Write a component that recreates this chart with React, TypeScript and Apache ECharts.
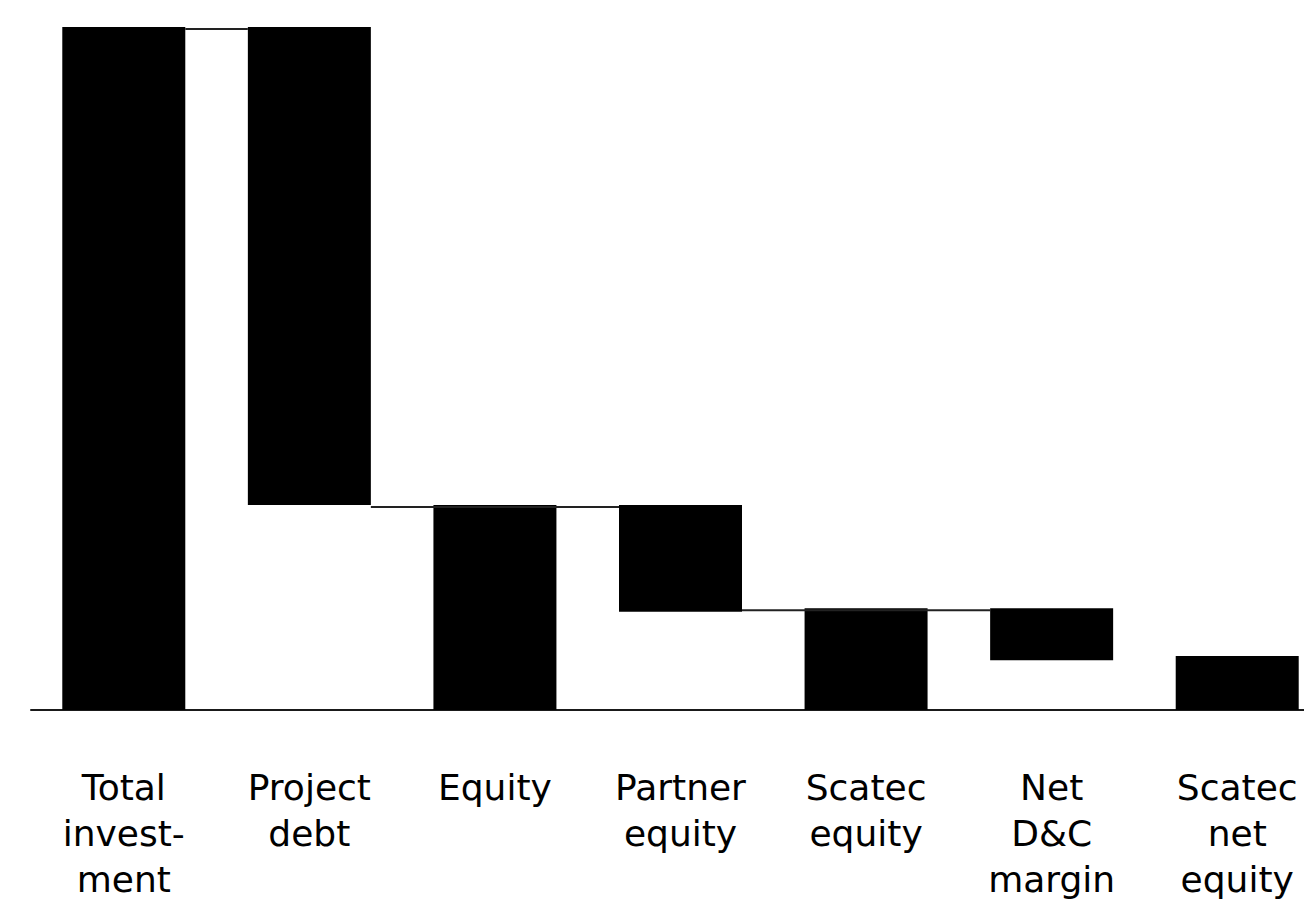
import React, { useEffect, useRef } from "react";
import * as echarts from "echarts";

const categories = [
  "Total\ninvest-\nment",
  "Project\ndebt",
  "Equity",
  "Partner\nequity",
  "Scatec\nequity",
  "Net\nD&C\nmargin",
  "Scatec\nnet\nequity",
];
// invisible offset under each floating bar
const baseValues = [0, 30, 0, 14.4, 0, 7.3, 0];
// visible bar height
const barValues = [100, 70, 30, 15.6, 14.9, 7.6, 7.9];
// connectors: [fromIndex, toIndex, level]
const connectors = [
  [0, 1, 100],
  [1, 3, 30],
  [3, 5, 14.9],
];

const BAR_WIDTH = 123;

export default function App() {
  const ref = useRef<HTMLDivElement>(null);
  useEffect(() => {
    if (!ref.current) return;
    const chart = echarts.init(ref.current, null, { renderer: "svg" });
    chart.setOption({
      animation: false,
      backgroundColor: "#ffffff",
      grid: { left: 31, top: 27, width: 1299, bottom: 199, containLabel: false },
      xAxis: {
        type: "category",
        data: categories,
        axisLine: { show: true, lineStyle: { color: "#1a1a1a", width: 2 } },
        axisTick: { show: false },
        axisLabel: {
          interval: 0,
          margin: 54,
          color: "#000000",
          fontFamily: "DejaVu Sans",
          fontSize: 36,
          lineHeight: 46,
          align: "center",
        },
      },
      yAxis: {
        type: "value",
        min: 0,
        max: 100,
        show: false,
        splitLine: { show: false },
      },
      series: [
        {
          type: "bar",
          stack: "w",
          data: baseValues,
          barWidth: BAR_WIDTH,
          itemStyle: { color: "transparent" },
          silent: true,
        },
        {
          type: "bar",
          stack: "w",
          data: barValues,
          barWidth: BAR_WIDTH,
          itemStyle: { color: "#000000" },
        },
        {
          type: "custom",
          data: connectors,
          z: 5,
          renderItem: (params: any, api: any) => {
            const from = api.value(0);
            const to = api.value(1);
            const lvl = api.value(2);
            const p1 = api.coord([from, lvl]);
            const p2 = api.coord([to, lvl]);
            const half = BAR_WIDTH / 2;
            return {
              type: "line",
              shape: { x1: p1[0] + half, y1: p1[1] + 2, x2: p2[0] - half, y2: p2[1] + 2 },
              style: { stroke: "#222222", lineWidth: 2 },
            };
          },
        },
      ],
    });
    return () => chart.dispose();
  }, []);
  return (
    <div style={{ position: "fixed", left: 0, top: 0, width: 1304, height: 909, overflow: "hidden", background: "#fff" }}>
      <div ref={ref} style={{ width: 1340, height: 909 }} />
    </div>
  );
}
